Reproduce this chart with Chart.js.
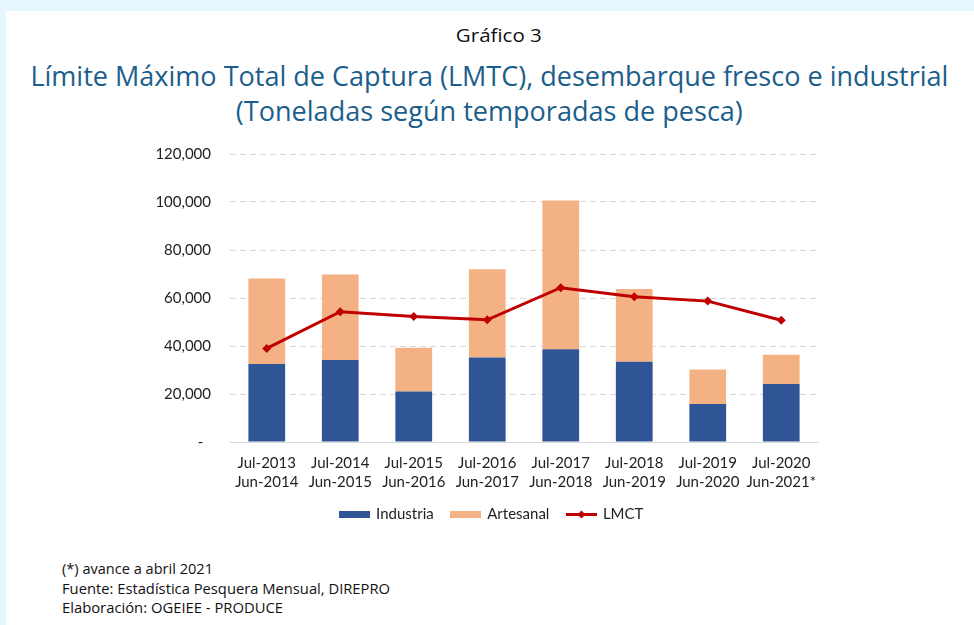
<!DOCTYPE html>
<html>
<head>
<meta charset="utf-8">
<script src="https://cdn.jsdelivr.net/npm/chart.js@4/dist/chart.umd.min.js"></script>
<style>
  html, body { margin:0; padding:0; }
  body { width:974px; height:625px; background:#E5F6FD; position:relative; overflow:hidden; font-family:"Open Sans", sans-serif; }
  #panel { position:absolute; left:6px; top:11px; right:0; bottom:0; background:#fff; }
  .t { position:absolute; white-space:nowrap; }
  #chartWrap { position:absolute; left:130px; top:126px; width:720px; height:410px; }
</style>
</head>
<body>
<div id="panel"></div>
<div class="t" id="g3" style="color:#111;font-size:19px;line-height:24px;">Gráfico 3</div>
<div class="t" id="t1" style="color:#1B5E8C;font-size:28px;line-height:36px;">Límite Máximo Total de Captura (LMTC), desembarque fresco e industrial</div>
<div class="t" id="t2" style="color:#1B5E8C;font-size:28px;line-height:36px;">(Toneladas según temporadas de pesca)</div>
<div class="t" id="f1" style="color:#111;font-size:15px;line-height:20px;">(*) avance a abril 2021</div>
<div class="t" id="f2" style="color:#111;font-size:15px;line-height:20px;">Fuente: Estadística Pesquera Mensual, DIREPRO</div>
<div class="t" id="f3" style="color:#111;font-size:15px;line-height:20px;">Elaboración: OGEIEE - PRODUCE</div>
<div id="chartWrap"><canvas id="c" width="720" height="410"></canvas></div>
<script>
// ---- Data ----
const categories = [
  ["Jul-2013","Jun-2014"], ["Jul-2014","Jun-2015"], ["Jul-2015","Jun-2016"], ["Jul-2016","Jun-2017"],
  ["Jul-2017","Jun-2018"], ["Jul-2018","Jun-2019"], ["Jul-2019","Jun-2020"], ["Jul-2020","Jun-2021*"]
];
const industria = [32500, 34200, 21000, 35200, 38600, 33400, 15800, 24200];
const artesanal = [35600, 35600, 18300, 36800, 62000, 30400, 14400, 12200];
const lmct      = [39000, 54300, 52300, 50900, 64300, 60500, 58700, 50700];
const yTicks    = [0, 20000, 40000, 60000, 80000, 100000, 120000];

// ---- Text placement (fit widths) ----
function place(id, cx, cy, w, anchor) {
  const el = document.getElementById(id);
  const r = el.getBoundingClientRect();
  const s = w / r.width;
  el.style.transformOrigin = anchor === 'left' ? '0 50%' : '50% 50%';
  el.style.transform = 'scaleX(' + s + ')';
  const h = r.height;
  el.style.top = (cy - h / 2) + 'px';
  if (anchor === 'left') el.style.left = cx + 'px';
  else el.style.left = (cx - r.width / 2) + 'px';
}
place('g3', 499, 35, 86, 'center');
place('t1', 489, 75, 918, 'center');
place('t2', 489, 110, 507, 'center');
place('f1', 62, 568, 151, 'left');
place('f2', 62, 588, 328, 'left');
place('f3', 62, 607, 221, 'left');

// ---- Legend symbols ----
function boxSym(color) {
  const c = document.createElement('canvas');
  c.width = 31; c.height = 7;
  const x = c.getContext('2d');
  x.fillStyle = color; x.fillRect(0, 0, 31, 7);
  return c;
}
function lineSym(color) {
  const c = document.createElement('canvas');
  c.width = 31; c.height = 11;
  const x = c.getContext('2d');
  x.strokeStyle = color; x.lineWidth = 3;
  x.beginPath(); x.moveTo(0, 5.5); x.lineTo(31, 5.5); x.stroke();
  x.fillStyle = color;
  x.beginPath(); x.moveTo(15.5, 1.5); x.lineTo(19.5, 5.5); x.lineTo(15.5, 9.5); x.lineTo(11.5, 5.5); x.closePath(); x.fill();
  return c;
}
const syms = [boxSym('#2F5597'), boxSym('#F4B183'), lineSym('#C00000')];

const legendShift = {
  id: 'legendShift',
  afterLayout(ch) { if (ch.legend) { ch.legend.left += 18; ch.legend.right += 18; } }
};

const chart = new Chart(document.getElementById('c'), {
  data: {
    labels: categories,
    datasets: [
      { type:'bar', label:'Industria', data: industria, backgroundColor:'#2F5597', stack:'s', order:2,
        barPercentage:0.5, categoryPercentage:1.0 },
      { type:'bar', label:'Artesanal', data: artesanal, backgroundColor:'#F4B183', stack:'s', order:2,
        barPercentage:0.5, categoryPercentage:1.0 },
      { type:'line', label:'LMCT', data: lmct, borderColor:'#C00000', backgroundColor:'#C00000', borderWidth:3,
        pointStyle:'rectRot', pointRadius:4.5, pointHoverRadius:4.5, pointBorderWidth:0, tension:0, stack:'l', order:1 }
    ]
  },
  plugins: [legendShift],
  options: {
    responsive:false, animation:false,
    layout: { padding: { left:0, right:32, top:18, bottom:4 } },
    plugins: {
      tooltip: { enabled:false },
      legend: {
        position:'bottom',
        labels: {
          usePointStyle:true, pointStyleWidth:28, padding:18,
          font: { family:'Lato', size:15 }, color:'#222',
          generateLabels: (ch) => ch.data.datasets.map((d, i) => ({
            text: d.label, pointStyle: syms[i], datasetIndex: i, hidden:false,
            fillStyle: d.backgroundColor, strokeStyle: d.borderColor || d.backgroundColor, lineWidth:0,
            fontColor:'#222'
          }))
        }
      }
    },
    scales: {
      x: {
        stacked:true,
        grid: { display:false, drawTicks:false },
        border: { display:true, color:'#D9D9D9', width:1 },
        ticks: { padding:12, color:'#222', font: { family:'Lato', size:15, lineHeight:1.27 }, maxRotation:0, autoSkip:false },
        afterFit: (s) => { s.height = 47; }
      },
      y: {
        stacked:true, min:0, max:120000,
        afterBuildTicks: (s) => { s.ticks = yTicks.map(v => ({ value: v })); },
        grid: { color:'#D9D9D9', lineWidth:1, drawTicks:false },
        border: { display:false, dash:[6,4] },
        ticks: { padding:19, color:'#222', font: { family:'Lato', size:15 },
          callback: (v) => v === 0 ? '-  ' : v.toLocaleString('en-US') },
        afterFit: (s) => { s.width = 100; }
      }
    }
  }
});
</script>
</body>
</html>
